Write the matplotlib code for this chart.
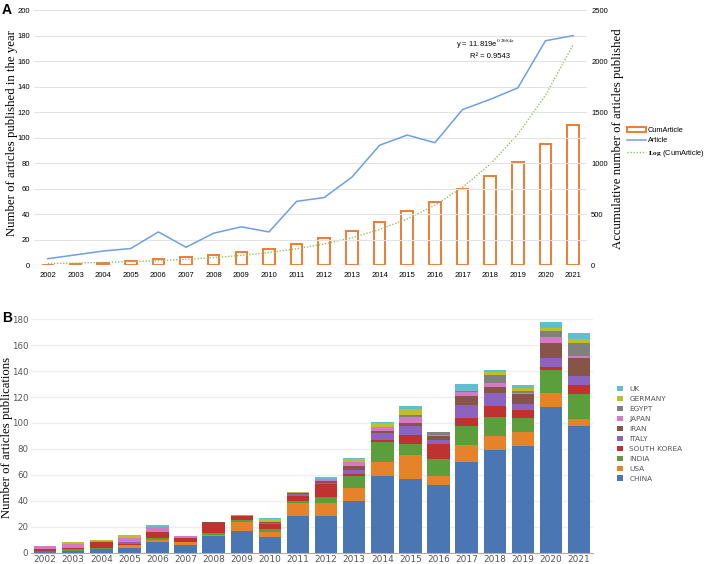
import numpy as np
import matplotlib
matplotlib.use("Agg")
import matplotlib.pyplot as plt
from matplotlib.patches import Patch
from matplotlib.lines import Line2D

plt.rcParams["mathtext.fontset"] = "stix"
plt.rcParams["font.family"] = ["Liberation Sans", "DejaVu Sans"]

years = [str(y) for y in range(2002, 2022)]

# panel A
articles = [5, 8, 11, 13, 26, 14, 25, 30, 26, 50, 53, 69, 94, 102, 96, 122, 130, 139, 176, 180]
cum_articles = [5, 13, 24, 37, 63, 77, 102, 132, 158, 208, 261, 330, 424, 526, 622, 744, 874, 1013, 1189, 1369]
trend_a = 11.819
trend_b = 0.2604
r_squared = 0.9543

# panel B (stack order bottom -> top)
countries = ["CHINA", "USA", "INDIA", "SOUTH KOREA", "ITALY", "IRAN", "JAPAN", "EGYPT", "GERMANY", "UK"]
china = [1, 1, 3, 4, 8, 6, 13, 17, 12, 28, 28, 40, 59, 57, 52, 70, 79, 82, 112, 98]
usa = [0, 0, 0, 2, 2, 2, 1, 7, 4, 10, 10, 10, 11, 18, 7, 13, 11, 11, 11, 5]
india = [0, 2, 1, 0, 1, 0, 1, 1, 2, 2, 5, 9, 15, 9, 13, 15, 15, 11, 18, 19]
south_korea = [2, 1, 4, 1, 5, 3, 8, 3, 4, 4, 10, 2, 2, 7, 12, 6, 8, 6, 2, 7]
italy = [0, 0, 0, 1, 0, 0, 0, 0, 1, 1, 1, 3, 5, 7, 3, 10, 10, 5, 7, 7]
iran = [0, 0, 0, 0, 0, 0, 1, 0, 1, 1, 1, 3, 2, 2, 3, 7, 5, 7, 12, 14]
japan = [2, 3, 1, 3, 4, 2, 0, 1, 0, 0, 2, 3, 3, 5, 1, 3, 3, 1, 4, 2]
egypt = [0, 0, 0, 0, 0, 0, 0, 0, 0, 0, 0, 0, 0, 1, 2, 1, 6, 2, 5, 10]
germany = [0, 1, 1, 3, 0, 0, 0, 0, 2, 1, 0, 2, 3, 5, 0, 0, 2, 2, 2, 3]
uk = [0, 0, 0, 0, 1, 0, 0, 0, 1, 0, 1, 1, 1, 2, 0, 5, 2, 2, 5, 4]
country_values = [china, usa, india, south_korea, italy, iran, japan, egypt, germany, uk]
country_colors = ["#4a77b4", "#e5822a", "#5c9e3b", "#c0322f", "#8c63be",
                  "#865547", "#d479c3", "#808080", "#bdbd2e", "#5fbfd1"]

W, H = 708, 564
fig = plt.figure(figsize=(W / 100, H / 100), dpi=100)
x = np.arange(len(years))
serif = ["Liberation Serif", "DejaVu Serif"]

# ---------- panel A ----------
ax = fig.add_axes([0.048, 0.530, 0.781, 0.452])
ax2 = ax.twinx()
ax.set_zorder(ax2.get_zorder() + 1)
ax.patch.set_visible(False)

ax2.bar(x, cum_articles, width=0.42, facecolor="white", edgecolor="#ed7d31", linewidth=1.4)
trend = [trend_a * np.exp(trend_b * (i + 1)) for i in x]
ax2.plot(x, trend, color="#8fc065", linestyle=(0, (1, 1.2)), linewidth=1.0)
ax.plot(x, articles, color="#6f9fe0", linewidth=1.1)

ax.set_xlim(-0.5, 19.5)
ax.set_ylim(0, 200)
ax2.set_ylim(0, 2500)
ax.set_yticks(range(0, 201, 20))
ax2.set_yticks(range(0, 2501, 500))
ax.set_xticks(x)
ax.set_xticklabels(years)
ax2.grid(False)
for yv in range(20, 201, 20):
    ax.axhline(yv, color="#e3e3e3", linewidth=0.8, zorder=0)
ax.axhline(0, color="#d0d0d0", linewidth=0.8, zorder=0)
for a in (ax, ax2):
    for side in ["top", "right", "bottom", "left"]:
        a.spines[side].set_visible(False)
    a.tick_params(length=0, labelsize=5.5, pad=3)
ax.tick_params(axis="x", pad=5)

fig.text(12 / W, 1 - 133 / H, "Number of articles published in the year", family=serif,
         fontsize=9.2, rotation=90, ha="center", va="center")
fig.text(618 / W, 1 - 139 / H, "Accumulative number of articles published", family=serif,
         fontsize=9.2, rotation=90, ha="center", va="center")

ax2.text(15.85, 2167, "y = 11.819e$^{0.2684x}$", fontsize=5.5, ha="center", va="center")
ax2.text(16.0, 2050, "R² = 0.9543", fontsize=5.5, ha="center", va="center")

handles_a = [
    Patch(facecolor="white", edgecolor="#ed7d31", linewidth=1.4),
    Line2D([0], [0], color="#6f9fe0", linewidth=1.1),
    Line2D([0], [0], color="#8fc065", linestyle=(0, (1, 1.2)), linewidth=1.0),
]
labels_a = ["CumArticle", "Article", r"$\mathbf{Log}$ (CumArticle)"]
fig.legend(handles_a, labels_a, loc="upper left", bbox_to_anchor=(627 / W, 1 - 127 / H),
           frameon=False, fontsize=5.3, handlelength=2.6, handleheight=0.55,
           labelspacing=0.45, handletextpad=0.25, borderaxespad=0, borderpad=0)

fig.text(0.003, 0.983, "A", fontsize=10, fontweight="bold", va="center")

# ---------- panel B ----------
bx = fig.add_axes([0.0438, 0.020, 0.794, 0.414])
bottom = np.zeros(len(years))
bar_handles = []
for name, vals, col in zip(countries, country_values, country_colors):
    h = bx.bar(x, vals, bottom=bottom, width=0.8, color=col, linewidth=0, label=name, zorder=2)
    bar_handles.append(h)
    bottom = bottom + np.array(vals)

bx.set_xlim(-0.5, 19.5)
bx.set_ylim(0, 180)
bx.set_yticks(range(0, 181, 20))
bx.set_xticks(x)
bx.set_xticklabels(years)
for yv in range(20, 181, 20):
    bx.axhline(yv, color="#eeeeee", linewidth=1.0, zorder=0)
for side in ["top", "right", "left"]:
    bx.spines[side].set_visible(False)
bx.spines["bottom"].set_color("#aaaaaa")
bx.tick_params(length=0, labelsize=6.5, colors="#555555", pad=2)
bx.tick_params(axis="y", labelsize=6.2, pad=2)
for lbl in bx.get_xticklabels() + bx.get_yticklabels():
    lbl.set_family(["DejaVu Sans"])
fig.text(7 / W, 1 - 437 / H, "Number of articles publications", family=serif,
         fontsize=9.2, rotation=90, ha="center", va="center")

bx.legend(bar_handles[::-1], countries[::-1], loc="upper left", bbox_to_anchor=(617 / W, 1 - 386 / H),
          bbox_transform=fig.transFigure, frameon=False, labelcolor="#555555",
          prop={"family": "DejaVu Sans", "size": 5.3},
          handlelength=0.75, handleheight=0.75, labelspacing=0.5, handletextpad=0.9,
          borderaxespad=0, borderpad=0)

fig.text(0.003, 0.437, "B", fontsize=10, fontweight="bold", va="center")

fig.savefig("out.png", dpi=100, facecolor="white")
